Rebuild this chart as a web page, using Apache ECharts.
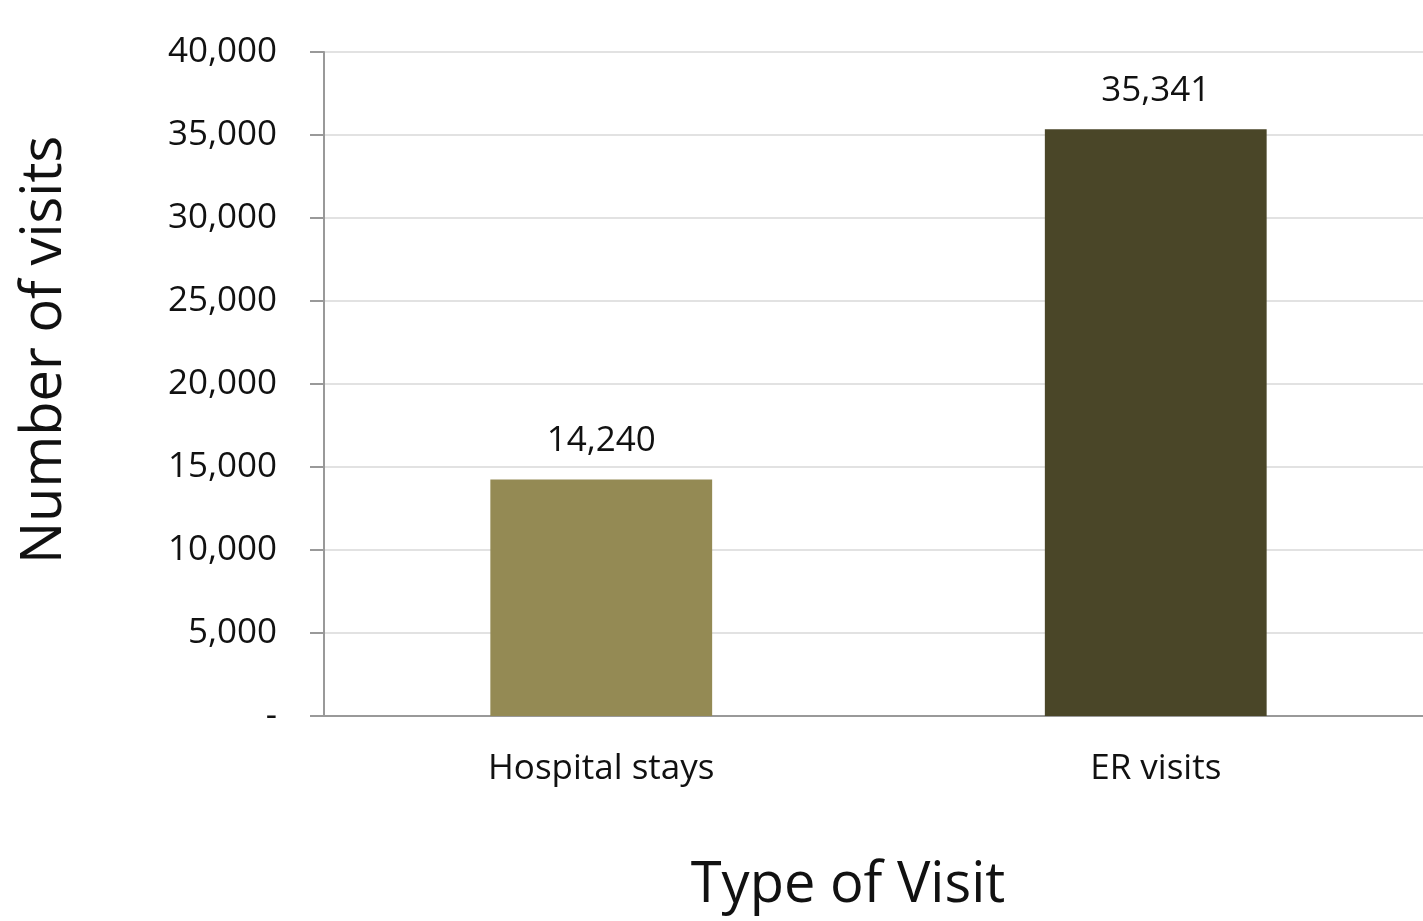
<!DOCTYPE html>
<html><head><meta charset="utf-8">
<script src="https://cdn.jsdelivr.net/npm/echarts@6/dist/echarts.min.js"></script>
<style>html,body{margin:0;padding:0;background:#fff}#c{width:1423px;height:921px}</style>
</head><body><div id="c"></div>
<script>
const categories = ["Hospital stays", "ER visits"];
const visits = [14240, 35341];
const barColors = ["#948A54", "#4A4628"];
const yTicks = [0, 5000, 10000, 15000, 20000, 25000, 30000, 35000, 40000];
const xTitle = "Type of Visit";
const yTitle = "Number of visits";

const FONT = "Open Sans";
const fmt = v => v === 0 ? "-" : v.toLocaleString("en-US");
const chart = echarts.init(document.getElementById("c"), null, {renderer: "canvas"});
chart.setOption({
  animation: false,
  textStyle: {fontFamily: FONT, color: "#111"},
  grid: {left: 324, right: -10, top: 52, bottom: 205, containLabel: false, outerBoundsMode: "none"},
  xAxis: {
    type: "category", data: categories,
    axisLine: {lineStyle: {color: "#999", width: 2}},
    axisTick: {show: false},
    axisLabel: {fontFamily: FONT, fontSize: 35, color: "#111", margin: 36}
  },
  yAxis: {
    type: "value", min: yTicks[0], max: yTicks[yTicks.length - 1], interval: 5000,
    axisLine: {show: true, lineStyle: {color: "#999", width: 2}},
    axisTick: {show: true, length: 14, lineStyle: {color: "#999", width: 2}},
    splitLine: {lineStyle: {color: "#d9d9d9", width: 1.5}},
    axisLabel: {fontFamily: FONT, fontSize: 35, color: "#111", margin: 47, formatter: fmt}
  },
  series: [{
    type: "bar", barWidth: "40%",
    data: visits.map((v, i) => ({value: v, itemStyle: {color: barColors[i]}})),
    label: {show: true, position: "top", distance: 21, fontFamily: FONT, fontSize: 35, color: "#111",
            formatter: p => p.value.toLocaleString("en-US")}
  }],
  graphic: [
    {type: "text", x: 848, y: 886, style: {text: xTitle, font: "56px '" + FONT + "'", fill: "#111", textAlign: "center", textVerticalAlign: "middle"}},
    {type: "text", x: 45, y: 350, rotation: Math.PI / 2, style: {text: yTitle, font: "56px '" + FONT + "'", fill: "#111", textAlign: "center", textVerticalAlign: "middle"}}
  ]
});
</script></body></html>
